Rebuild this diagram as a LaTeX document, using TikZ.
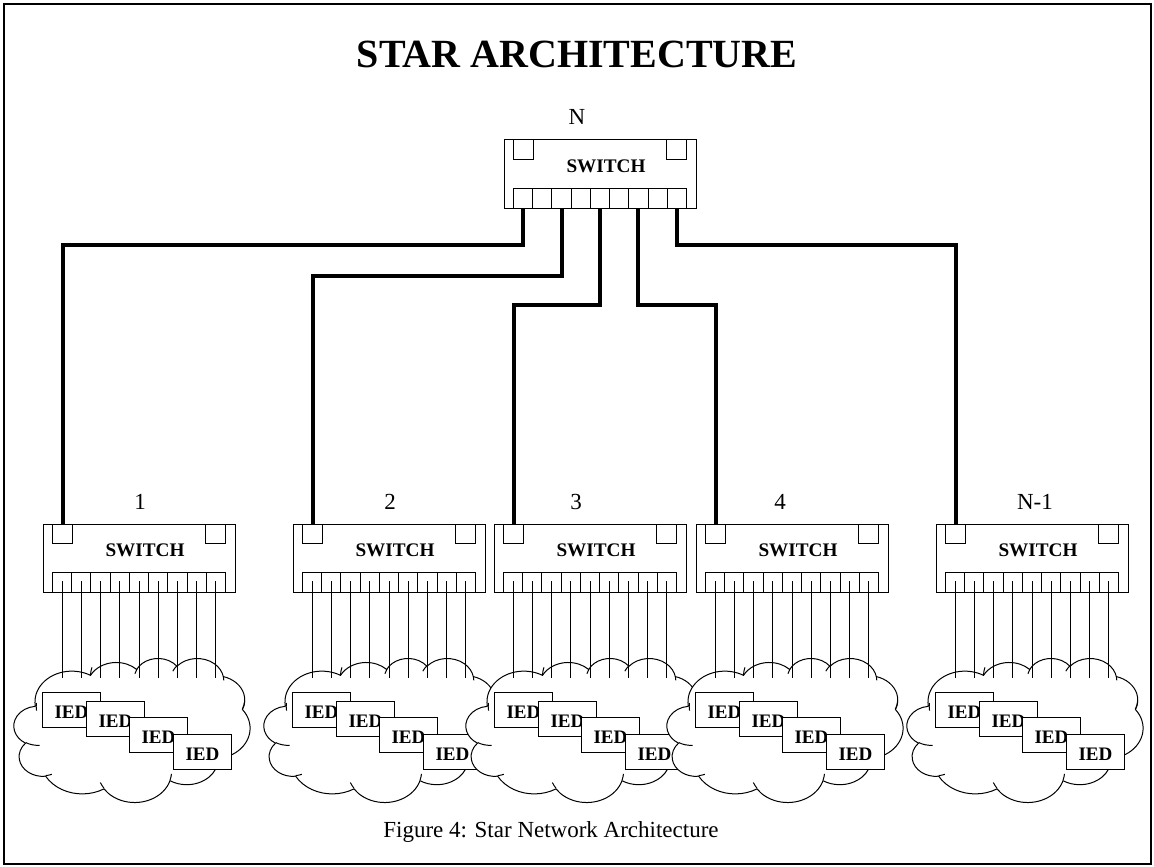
\documentclass[tikz,border=0pt]{standalone}
\usepackage{fontspec}
\setmainfont{Liberation Serif}
\newcommand\ooCloud[1]{%
  \begin{scope}[shift={(#1,658)}, xscale=0.54630, yscale=0.33333, line width=0.75pt]
    \draw[fill=white] (39.00,143.70)
      arc[start angle=172.25, delta angle=128.11, x radius=67.53, y radius=91.90]
      arc[start angle=-152.03, delta angle=106.59, x radius=53.33, y radius=72.67]
      arc[start angle=-153.48, delta angle=116.15, x radius=43.65, y radius=59.45]
      arc[start angle=-139.69, delta angle=129.48, x radius=48.57, y radius=65.95]
      arc[start angle=-74.77, delta angle=97.98, x radius=53.33, y radius=72.73]
      arc[start angle=-37.52, delta angle=119.38, x radius=67.75, y radius=92.20]
      arc[start angle=0.46, delta angle=121.52, x radius=57.85, y radius=78.67]
      arc[start angle=16.84, delta angle=129.41, x radius=67.52, y radius=92.15]
      arc[start angle=58.98, delta angle=91.22, x radius=77.20, y radius=105.43]
      arc[start angle=83.31, delta angle=139.80, x radius=43.60, y radius=59.18]
      arc[start angle=120.36, delta angle=143.75, x radius=43.45, y radius=59.45]
      -- cycle;
    \draw (46.93,261.77) arc[start angle=85.55, delta angle=34.81, x radius=43.45, y radius=59.45]
          (69.28,348.99) arc[start angle=68.23, delta angle=15.08, x radius=43.60, y radius=59.18]
          (164.78,390.90) arc[start angle=146.25, delta angle=12.22, x radius=67.52, y radius=92.15]
          (288.27,347.51) arc[start angle=4.74, delta angle=12.10, x radius=67.52, y radius=92.15]
          (341.29,229.54) arc[start angle=-64.03, delta angle=64.49, x radius=57.85, y radius=78.67]
          (417.98,153.54) arc[start angle=23.21, delta angle=-21.33, x radius=53.33, y radius=72.73]
          (383.24,54.26) arc[start angle=-10.21, delta angle=11.03, x radius=48.57, y radius=65.95]
          (290.78,39.52) arc[start angle=-156.28, delta angle=16.59, x radius=48.57, y radius=65.95]
          (221.41,47.20) arc[start angle=-167.73, delta angle=14.25, x radius=43.65, y radius=59.45]
          (140.00,51.92) arc[start angle=-178.78, delta angle=15.17, x radius=67.53, y radius=91.90]
          (41.27,157.89) arc[start angle=-187.75, delta angle=14.35, x radius=67.53, y radius=91.90];
  \end{scope}}
\begin{document}
\begin{tikzpicture}[x=0.75pt,y=-0.75pt,line join=miter]
\tikzset{
  frame/.style={line width=1.5pt},
  trunk/.style={line width=3pt},
  drop/.style={line width=0.75pt},
  swlabel/.style={font=\bfseries\fontsize{14.4}{16}\selectfont},
  numlabel/.style={font=\fontsize{17.25}{20}\selectfont, anchor=base},
  ied/.style={draw, fill=white, line width=0.75pt, minimum width=43.5pt, minimum height=26.6pt,
    inner sep=0pt, anchor=north west, text height=12.4pt, text depth=0pt,
    font=\bfseries\fontsize{14.3}{16}\selectfont},
  switchpic/.pic={
    \node[draw, line width=0.75pt, minimum width=144pt, minimum height=51pt, inner sep=0pt,
      outer sep=0pt, anchor=north west] (-box) at (0,0) {};
    \draw[line width=0.75pt] (9.5,0) rectangle (29.5,19) (162.5,0) rectangle (182.5,19)
      (9.5,48) rectangle (182.5,68);
    \foreach \k in {1,...,8} \draw[line width=0.75pt] ({9.5+19.222*\k},48) -- ({9.5+19.222*\k},68);
    \foreach \k in {1,...,9} {
      \coordinate (-p\k) at ({9.5+19.222*(\k-0.5)},68);
      \coordinate (-q\k) at ({9.5+19.222*(\k-0.5)},57);
    }
    \coordinate (-in) at (19.5,0);
    \node[swlabel, anchor=base] (-t) at (102,32) {SWITCH};
  }
}
\useasboundingbox (0,0) rectangle (1154,867);
\draw[frame] (4,4) rectangle (1151,864);

\node[font=\bfseries\fontsize{30}{34}\selectfont, anchor=base] (title) at (577,68) {STAR ARCHITECTURE};
\node[font=\fontsize{17.25}{20}\selectfont, anchor=base] (caption) at (551,837) {Figure 4: Star Network Architecture};

% clouds with IEDs
\foreach \L [count=\c] in {14,264,466,667,907}{
  \ooCloud{\L}
  \node[ied] (ied\c a) at ({\L+28},692) {IED};
  \node[ied] (ied\c b) at ({\L+72},701) {IED};
  \node[ied] (ied\c c) at ({\L+115},717) {IED};
  \node[ied] (ied\c d) at ({\L+159},734) {IED};
}

% switches
\pic (sN) at (504,140) {switchpic};
\pic (s1) at (43,524) {switchpic};
\pic (s2) at (293,524) {switchpic};
\pic (s3) at (494,524) {switchpic};
\pic (s4) at (696,524) {switchpic};
\pic (s5) at (936,524) {switchpic};

% labels
\node[numlabel] (lN) at (577,125) {N};
\node[numlabel] (l1) at (140,509) {1};
\node[numlabel] (l2) at (390,509) {2};
\node[numlabel] (l3) at (576,509) {3};
\node[numlabel] (l4) at (780,509) {4};
\node[numlabel] (l5) at (1035,509) {N-1};

% drops to clouds
\foreach \s in {s1,s2,s3,s4,s5}{
  \foreach \k in {1,...,9}{
    \draw[drop] (\s-q\k) -- ++(0,97);
  }
}

% trunks
\draw[trunk] (sN-p1) -- ++(0,37) -| (s1-in);
\draw[trunk] (sN-p3) -- ++(0,68) -| (s2-in);
\draw[trunk] (sN-p5) -- ++(0,97) -| (s3-in);
\draw[trunk] (sN-p7) -- ++(0,97) -| (s4-in);
\draw[trunk] (sN-p9) -- ++(0,37) -| (s5-in);
\end{tikzpicture}
\end{document}
